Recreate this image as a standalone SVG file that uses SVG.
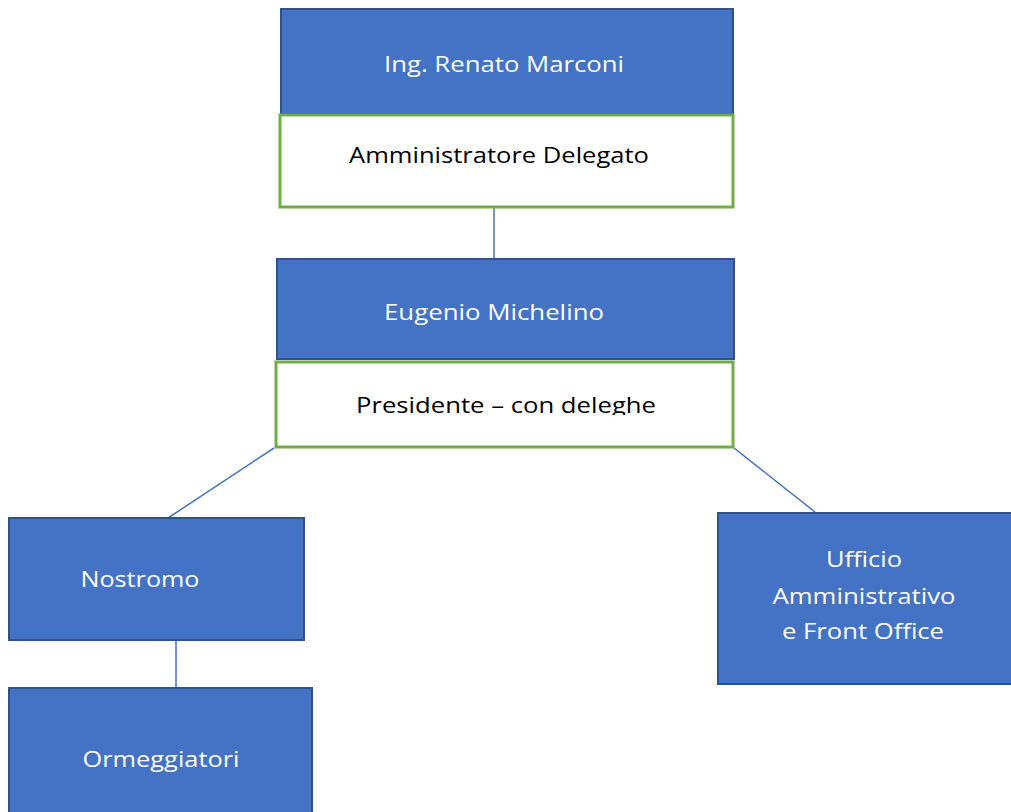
<svg xmlns="http://www.w3.org/2000/svg" width="1011" height="812" viewBox="0 0 1011 812">
<style>
.blue{fill:#4472C4;stroke:#2F528F;stroke-width:2}
.green{fill:#FFFFFF;stroke:#70AD47;stroke-width:3}
.wt{fill:#FFFFFF;font-family:"Open Sans","Noto Sans",sans-serif;font-size:22px;text-anchor:middle}
.bt{fill:#000000;font-family:"Open Sans","Noto Sans",sans-serif;font-size:22px;text-anchor:middle}
.conn line{stroke:#4472C4;stroke-width:1.5}
</style>
<defs>
<clipPath id="clipPres"><rect x="275" y="361" width="460" height="54"/></clipPath>
</defs>
<rect width="1011" height="812" fill="#FFFFFF"/>
<g id="connectors" class="conn">
<line x1="494" y1="208" x2="494" y2="258"/>
<line x1="274" y1="448" x2="168" y2="518"/>
<line x1="734" y1="448" x2="815" y2="512"/>
<line x1="176" y1="640" x2="176" y2="687"/>
</g>
<g id="marconi">
<rect class="blue" x="281" y="9" width="452" height="105"/>
<text class="wt" x="504" y="72" textLength="240" lengthAdjust="spacingAndGlyphs">Ing. Renato Marconi</text>
</g>
<g id="amministratore">
<rect class="green" x="280" y="115" width="453" height="92"/>
<text class="bt" x="499" y="163" textLength="300" lengthAdjust="spacingAndGlyphs">Amministratore Delegato</text>
</g>
<g id="michelino">
<rect class="blue" x="277" y="259" width="457" height="100"/>
<text class="wt" x="494" y="320" textLength="220" lengthAdjust="spacingAndGlyphs">Eugenio Michelino</text>
</g>
<g id="presidente">
<rect class="green" x="276" y="362" width="457" height="85"/>
<text class="bt" x="506" y="413" textLength="300" lengthAdjust="spacingAndGlyphs" clip-path="url(#clipPres)">Presidente – con deleghe</text>
</g>
<g id="nostromo">
<rect class="blue" x="9" y="518" width="295" height="122"/>
<text class="wt" x="140" y="587" textLength="119" lengthAdjust="spacingAndGlyphs">Nostromo</text>
</g>
<g id="ormeggiatori">
<rect class="blue" x="9" y="688" width="303" height="130"/>
<text class="wt" x="161" y="767" textLength="157" lengthAdjust="spacingAndGlyphs">Ormeggiatori</text>
</g>
<g id="ufficio">
<rect class="blue" x="718" y="513" width="300" height="171"/>
<text class="wt" x="864" y="567" textLength="76" lengthAdjust="spacingAndGlyphs">Ufficio</text>
<text class="wt" x="864" y="604" textLength="183" lengthAdjust="spacingAndGlyphs">Amministrativo</text>
<text class="wt" x="863" y="639" textLength="162" lengthAdjust="spacingAndGlyphs">e Front Office</text>
</g>
</svg>
